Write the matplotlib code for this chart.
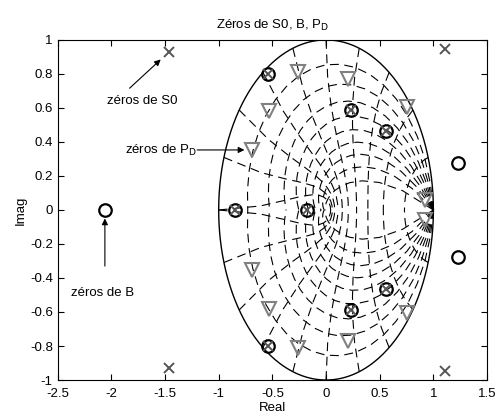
import matplotlib
matplotlib.use("Agg")
import matplotlib.pyplot as plt
import numpy as np

plt.rcParams["font.family"] = ["Liberation Sans", "DejaVu Sans"]
plt.rcParams["font.size"] = 9.5

# zeros
s0_re = [-1.46, -1.46, 1.11, 1.11, -0.54, -0.54, 0.23, 0.23, 0.56, 0.56, -0.85, -0.18]
s0_im = [0.93, -0.93, 0.945, -0.945, 0.80, -0.80, 0.59, -0.59, 0.465, -0.465, 0.0, 0.0]

b_re = [-2.06, 1.23, 1.23, -0.54, -0.54, 0.23, 0.23, 0.56, 0.56, -0.85, -0.18]
b_im = [0.0, 0.278, -0.278, 0.80, -0.80, 0.59, -0.59, 0.465, -0.465, 0.0, 0.0]

pd_re = [-0.26, -0.26, 0.20, 0.20, -0.53, -0.53, 0.755, 0.755, -0.69, -0.69, 0.925, 0.925]
pd_im = [0.81, -0.81, 0.77, -0.77, 0.58, -0.58, 0.606, -0.606, 0.353, -0.353, 0.06, -0.06]

zeta = np.arange(1, 10) / 10.0
wn = np.arange(1, 11) / 10.0

GRAY = "#808080"
DASH = (8, 5)

fig = plt.figure(figsize=(4.97, 4.16), dpi=100)
ax = fig.add_axes([0.116, 0.0865, 0.864, 0.8175])

# unit circle
th = np.linspace(0, 2 * np.pi, 400)
ax.plot(np.cos(th), np.sin(th), color="k", lw=1.0)

# damping ratio lines
t = np.linspace(0, np.pi, 21)
for z in zeta:
    m = np.tan(np.arcsin(z))
    zz = np.exp(t * (-m + 1j))
    ax.plot(zz.real, zz.imag, "k--", lw=0.8, dashes=DASH)
    ax.plot(zz.real, -zz.imag, "k--", lw=0.8, dashes=DASH)

# natural frequency lines
theta = np.linspace(np.pi / 2, np.pi, 11)
for w in wn:
    zz = np.exp(w * np.pi * np.exp(1j * theta))
    ax.plot(zz.real, zz.imag, "k--", lw=0.8, dashes=DASH)
    ax.plot(zz.real, -zz.imag, "k--", lw=0.8, dashes=DASH)

ax.plot(b_re, b_im, "o", ms=9, mfc="none", mec="k", mew=1.6, ls="none")
ax.plot(s0_re, s0_im, "x", ms=7, mec="#555555", mew=1.4, ls="none")
ax.plot(pd_re, pd_im, "v", ms=9.5, mfc="none", mec=GRAY, mew=1.5, ls="none")

arrow = dict(arrowstyle="-|>", color="k", lw=0.8, mutation_scale=9, shrinkA=0, shrinkB=0)
ax.annotate("", xy=(-1.54, 0.885), xytext=(-1.83, 0.716), arrowprops=arrow)
ax.text(-1.71, 0.64, "zéros de S0", ha="center", va="center")
ax.annotate("", xy=(-0.76, 0.353), xytext=(-1.20, 0.353), arrowprops=arrow)
ax.text(-1.20, 0.353, "zéros de P$_\\mathrm{D}$", ha="right", va="center")
ax.annotate("", xy=(-2.06, -0.05), xytext=(-2.06, -0.33), arrowprops=arrow)
ax.text(-2.08, -0.49, "zéros de B", ha="center", va="center")

ax.set_xlim(-2.5, 1.5)
ax.set_ylim(-1, 1)
ax.set_xticks(np.arange(-2.5, 1.51, 0.5))
ax.set_yticks(np.arange(-1, 1.01, 0.2))
ax.set_xticklabels(["-2.5", "-2", "-1.5", "-1", "-0.5", "0", "0.5", "1", "1.5"])
ax.set_yticklabels(["-1", "-0.8", "-0.6", "-0.4", "-0.2", "0", "0.2", "0.4", "0.6", "0.8", "1"])
ax.tick_params(direction="in", top=True, right=True, length=4, width=0.8)
ax.tick_params(axis="x", pad=6)
for sp in ax.spines.values():
    sp.set_linewidth(0.8)
ax.set_xlabel("Real", labelpad=1)
ax.set_ylabel("Imag", labelpad=2)
ax.set_title("Zéros de S0, B, P$_\\mathrm{D}$", fontsize=9.5, pad=8)

fig.savefig("out.png", dpi=100)
